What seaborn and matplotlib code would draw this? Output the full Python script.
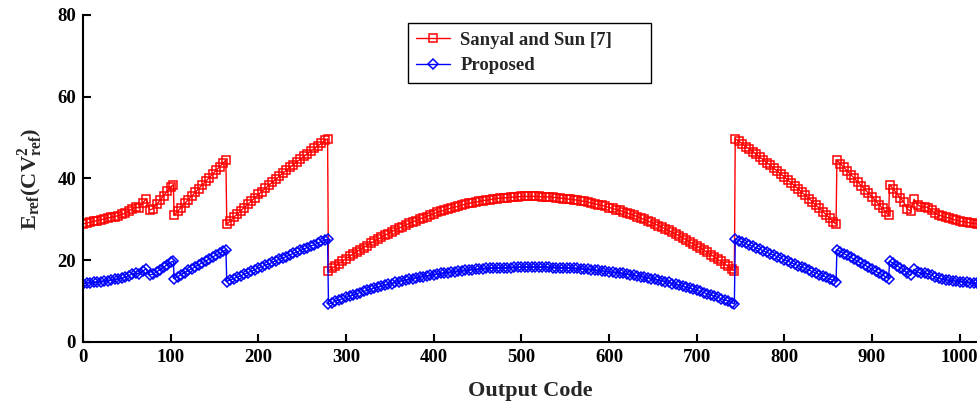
import matplotlib
matplotlib.use("Agg")
import matplotlib.pyplot as plt
import seaborn as sns
import pandas as pd

# ---------------- data ----------------
codes = (list(range(0, 101, 4)) + [103]
         + list(range(104, 161, 4)) + [163]
         + list(range(164, 277, 4)) + [279]
         + list(range(280, 741, 4)) + [743]
         + list(range(744, 857, 4)) + [859]
         + list(range(860, 917, 4)) + [919]
         + list(range(920, 1021, 4)) + [1023])

sanyal_s1 = [28.9, 29.1, 29.3, 29.5, 29.7, 29.9, 30.1, 30.3, 30.5, 30.7, 30.9, 31.2, 31.5,
             32.0, 32.6, 33.0, 32.8, 34.0, 35.0, 32.3, 32.6, 33.7, 34.7, 35.8, 36.9, 37.9, 38.5]
sanyal_s2 = [31.0, 32.0, 32.9, 33.9, 34.8, 35.7, 36.6, 37.5, 38.4, 39.3, 40.2, 41.1, 42.0,
             42.9, 43.8, 44.5]
sanyal_s3 = [28.8, 29.6, 30.5, 31.3, 32.1, 32.9, 33.7, 34.5, 35.3, 36.1, 36.8, 37.6, 38.3,
             39.1, 39.8, 40.6, 41.3, 42.0, 42.7, 43.4, 44.1, 44.7, 45.4, 46.1, 46.7, 47.4,
             48.0, 48.6, 49.3, 49.7]
sanyal_s4 = [17.4, 18.0, 18.6, 19.2, 19.8, 20.4, 21.0, 21.5, 22.1, 22.6, 23.1, 23.6, 24.2,
             24.6, 25.1, 25.6, 26.1, 26.5, 27.0, 27.4, 27.8, 28.2, 28.6, 29.0, 29.4, 29.7,
             30.1, 30.4, 30.7, 31.1, 31.4, 31.7, 32.0, 32.2, 32.5, 32.8, 33.0, 33.2, 33.5,
             33.7, 33.9, 34.1, 34.2, 34.4, 34.6, 34.7, 34.8, 35.0, 35.1, 35.2, 35.3, 35.3,
             35.4, 35.5, 35.5, 35.6, 35.6, 35.6,
             35.6, 35.6, 35.6, 35.5, 35.5, 35.5, 35.4, 35.3, 35.2, 35.1, 35.0, 34.9, 34.8,
             34.7, 34.5, 34.4, 34.2, 34.0, 33.8, 33.6, 33.4, 33.2, 32.9, 32.7, 32.4, 32.2,
             31.9, 31.6, 31.3, 31.0, 30.7, 30.3, 30.0, 29.6, 29.3, 28.9, 28.5, 28.1, 27.7,
             27.3, 26.8, 26.4, 26.0, 25.5, 25.0, 24.5, 24.0, 23.5, 23.0, 22.5, 21.9, 21.4,
             20.8, 20.2, 19.7, 19.1, 18.5, 17.9, 17.4]
sanyal_s5 = [49.7, 49.1, 48.5, 47.8, 47.2, 46.6, 45.9, 45.2, 44.6, 43.9, 43.2, 42.5, 41.8,
             41.1, 40.4, 39.6, 38.9, 38.2, 37.4, 36.6, 35.9, 35.1, 34.3, 33.5, 32.7, 31.9,
             31.1, 30.3, 29.4, 28.8]
sanyal_s6 = [44.5, 43.6, 42.7, 41.8, 40.9, 40.0, 39.1, 38.2, 37.3, 36.4, 35.5, 34.6, 33.6,
             32.7, 31.7, 31.0]
sanyal_s7 = [38.5, 37.5, 36.4, 35.3, 34.3, 32.6, 32.0, 34.9, 33.6, 33.0, 33.1, 32.9, 32.2,
             31.5, 31.1, 30.8, 30.5, 30.3, 30.0, 29.8, 29.6, 29.4, 29.3, 29.1, 29.0, 28.9, 28.8]

proposed_s1 = [14.3, 14.4, 14.5, 14.6, 14.7, 14.8, 14.9, 15.0, 15.1, 15.3, 15.4, 15.6, 15.8,
               16.2, 16.7, 16.9, 16.7, 17.3, 17.9, 16.4, 16.6, 17.2, 17.7, 18.3, 18.9, 19.5, 19.8]
proposed_s2 = [15.5, 16.0, 16.5, 17.0, 17.5, 17.9, 18.4, 18.9, 19.4, 19.8, 20.3, 20.8, 21.3,
               21.7, 22.2, 22.6]
proposed_s3 = [14.8, 15.2, 15.5, 15.9, 16.2, 16.6, 17.0, 17.3, 17.7, 18.1, 18.4, 18.8, 19.1,
               19.5, 19.9, 20.2, 20.6, 20.9, 21.3, 21.7, 22.0, 22.4, 22.8, 23.1, 23.5, 23.8,
               24.2, 24.6, 24.9, 25.2]
proposed_s4 = [9.3, 9.6, 10.0, 10.3, 10.6, 10.9, 11.2, 11.5, 11.8, 12.1, 12.4, 12.6, 12.9,
               13.2, 13.4, 13.6, 13.9, 14.1, 14.3, 14.6, 14.8, 15.0, 15.2, 15.3, 15.5, 15.7,
               15.9, 16.0, 16.2, 16.3, 16.5, 16.6, 16.8, 16.9, 17.0, 17.1, 17.2, 17.3, 17.4,
               17.5, 17.6, 17.7, 17.8, 17.8, 17.9, 18.0, 18.0, 18.1, 18.1, 18.2, 18.2, 18.2,
               18.2, 18.3, 18.3, 18.3, 18.3, 18.3,
               18.3, 18.3, 18.3, 18.3, 18.3, 18.3, 18.2, 18.2, 18.2, 18.2, 18.1, 18.1, 18.0,
               18.0, 17.9, 17.8, 17.8, 17.7, 17.6, 17.5, 17.4, 17.3, 17.2, 17.1, 17.0, 16.9,
               16.8, 16.6, 16.5, 16.3, 16.2, 16.0, 15.9, 15.7, 15.5, 15.3, 15.2, 15.0, 14.8,
               14.6, 14.3, 14.1, 13.9, 13.6, 13.4, 13.2, 12.9, 12.6, 12.4, 12.1, 11.8, 11.5,
               11.2, 10.9, 10.6, 10.3, 10.0, 9.6, 9.3]
proposed_s5 = [25.2, 24.8, 24.5, 24.1, 23.7, 23.4, 23.0, 22.7, 22.3, 21.9, 21.6, 21.2, 20.9,
               20.5, 20.1, 19.8, 19.4, 19.0, 18.7, 18.3, 18.0, 17.6, 17.2, 16.9, 16.5, 16.2,
               15.8, 15.4, 15.1, 14.8]
proposed_s6 = [22.6, 22.1, 21.6, 21.2, 20.7, 20.2, 19.7, 19.3, 18.8, 18.3, 17.8, 17.3, 16.9,
               16.4, 15.9, 15.5]
proposed_s7 = [19.8, 19.3, 18.7, 18.2, 17.7, 16.8, 16.3, 17.8, 17.1, 16.8, 16.8, 16.7, 16.3,
               15.9, 15.6, 15.4, 15.2, 15.1, 15.0, 14.9, 14.8, 14.7, 14.6, 14.5, 14.4, 14.4, 14.3]

sanyal = sanyal_s1 + sanyal_s2 + sanyal_s3 + sanyal_s4 + sanyal_s5 + sanyal_s6 + sanyal_s7
proposed = (proposed_s1 + proposed_s2 + proposed_s3 + proposed_s4 + proposed_s5
            + proposed_s6 + proposed_s7)

series_names = ["Sanyal and Sun [7]", "Proposed"]
x_ticks = [0, 100, 200, 300, 400, 500, 600, 700, 800, 900, 1000]
y_ticks = [0, 20, 40, 60, 80]

df = pd.DataFrame({"code": codes, "sanyal": sanyal, "proposed": proposed})

# ---------------- style ----------------
sns.set_style("ticks")
plt.rcParams["font.family"] = ["Liberation Serif", "DejaVu Serif"]
plt.rcParams["font.weight"] = "bold"
plt.rcParams["mathtext.fontset"] = "custom"
plt.rcParams["mathtext.rm"] = "Liberation Serif:bold"
plt.rcParams["mathtext.bf"] = "Liberation Serif:bold"
plt.rcParams["mathtext.it"] = "Liberation Serif:bold"

fig = plt.figure(figsize=(9.77, 4.04), dpi=100)
ax = fig.add_axes([83 / 977, 62 / 404, 894.2 / 977, 327 / 404])

sns.lineplot(data=df, x="code", y="sanyal", ax=ax, color="#ff0000", linewidth=1.0,
             marker="s", markersize=6.0, markerfacecolor="none",
             markeredgecolor="#ff0000", markeredgewidth=1.1,
             sort=False, estimator=None, label=series_names[0])
sns.lineplot(data=df, x="code", y="proposed", ax=ax, color="#0000ff", linewidth=1.0,
             marker="D", markersize=5.0, markerfacecolor="none",
             markeredgecolor="#0000ff", markeredgewidth=1.1,
             sort=False, estimator=None, label=series_names[1])

ax.set_xlim(0, 1020)
ax.set_ylim(0, 80)
ax.set_xticks(x_ticks)
ax.set_yticks(y_ticks)
for s in ["top", "right"]:
    ax.spines[s].set_visible(False)
for s in ["left", "bottom"]:
    ax.spines[s].set_linewidth(1.5)
    ax.spines[s].set_color("black")
ax.tick_params(direction="in", length=6, width=1.5, labelsize=13.5, colors="black", pad=5)
for lab in ax.get_xticklabels() + ax.get_yticklabels():
    lab.set_fontweight("bold")

ax.set_xlabel("Output Code", fontsize=16, fontweight="bold", va="top")
ax.xaxis.set_label_coords(0.5, -0.118)
ax.set_ylabel(r"$\mathbf{E_{ref}(CV_{ref}^{2})}$", fontsize=16)
ax.yaxis.set_label_coords(-0.043, 0.5)

leg = ax.legend(loc="upper left", bbox_to_anchor=(408 / 977, 1 - 23 / 404, 243 / 977, 0.0),
                bbox_transform=fig.transFigure, mode="expand", borderaxespad=0,
                fancybox=False, framealpha=1, edgecolor="black",
                prop={"family": "Liberation Serif", "weight": "bold", "size": 13.5},
                handlelength=1.8, handletextpad=0.55, labelspacing=0.45, borderpad=0.45)
leg.get_frame().set_linewidth(1.0)

fig.savefig("out.png", dpi=100)
